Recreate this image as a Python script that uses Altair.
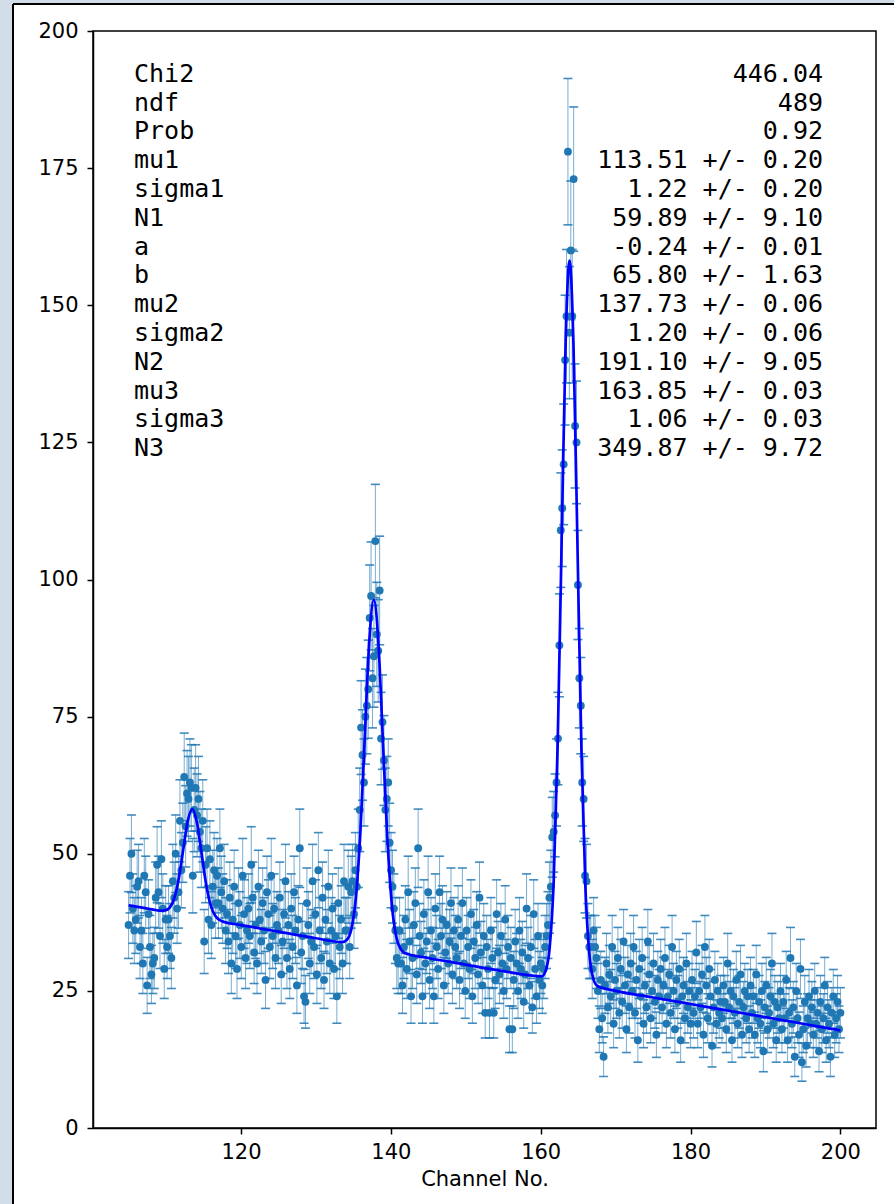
import altair as alt
import pandas as pd

# ---------------- data ----------------
CH_FIRST = 105.0
CH_LAST = 200.0

# counts per channel bin, left to right (grouped by region)
SEG_A = [37, 46, 50, 40, 36, 38, 44, 45, 33, 36, 30, 46, 43, 26, 39, 33, 28, 30, 31, 42, 48, 43, 35, 49, 40, 29, 38]
SEG_B = [33, 38, 35, 31, 45, 42, 50, 40, 43, 56, 47, 52, 64]
SEG_C = [55, 61, 60, 63, 62, 46, 58, 62, 57, 60, 54, 51, 56]
SEG_D = [34, 48, 51, 38, 49, 37, 44, 47, 41, 46]
SEG_E = [41, 51, 43, 40, 45, 36, 39, 34, 42, 30, 38, 44, 35, 29, 41, 37, 33, 46, 39, 31, 36,
         40, 35, 48, 42, 32, 37, 30, 44, 38, 34, 41, 36, 27, 43, 39, 33, 46, 35, 40, 31, 37,
         36, 42, 28, 34, 39, 45, 31, 37, 29, 40, 33, 43, 36, 26, 38, 51, 32, 35, 24, 23, 41, 37, 30, 34,
         45, 33, 39, 28, 47, 36, 31, 42, 27, 38, 34, 44, 30, 36, 40, 29, 35, 24, 41, 33, 38, 30, 45, 36]
SEG_F = [36, 44, 33, 43, 45, 39, 47, 44, 51, 58]
SEG_G = [73, 68, 63, 75, 77, 80, 93, 97, 82, 86, 107, 90, 87, 98, 71, 74, 67, 58, 60]
SEG_H = [63, 52, 47, 44, 40, 36, 31, 30]
SEG_I = [36, 30, 26, 33, 38, 29, 43, 34, 24, 31, 37, 41, 28, 51, 35, 32, 24, 39, 30, 34,
         43, 27, 36, 31, 24, 40, 33, 29, 43, 35, 38, 26, 32, 37, 30, 34, 41, 28, 36, 33,
         31, 38, 27, 35, 41, 30, 25, 36, 33, 29, 39, 24, 34, 31, 37, 28, 42, 32, 26, 35,
         21, 33, 29, 21, 36, 31, 21, 27, 39, 32, 28, 35, 30, 25, 38, 29, 33, 18, 31, 18,
         27, 34, 30, 25, 36, 29, 32, 23, 28, 40, 31, 26, 33, 22, 39, 29, 24, 35, 27, 30]
SEG_J = [26, 29, 33, 35, 37, 42, 44, 53]
SEG_K = [54, 57, 63, 71, 88, 109, 113, 121, 140, 148, 178, 145, 160, 148, 173, 128, 125, 99, 82, 77,
         63, 60, 46, 45, 35, 33]
SEG_L = [33, 29, 36, 33, 31, 25, 18, 27]
SEG_M = [20, 13, 26, 30, 22, 28, 24, 33, 19, 27, 25, 31, 21, 29, 23, 34, 26, 18, 28, 22, 30,
         25, 33, 21, 27, 16, 29, 24, 31, 19, 26, 22, 34, 28, 20, 25, 30, 23, 17, 27, 24, 29,
         22, 26, 31, 19, 24, 28, 21, 33, 25, 18, 27, 23, 29, 16, 24, 26, 20, 30, 22, 25, 19,
         27, 21, 24, 32, 19, 25, 22, 28, 17, 33, 26, 20, 29, 24, 15, 22, 27, 19, 25, 21, 23,
         20, 26, 23, 18, 30, 22, 25, 16, 24, 21, 27, 19, 23, 28, 17, 22, 25, 20, 24, 18, 26,
         21, 24, 17, 28, 20, 23, 19, 25, 14, 22, 26, 18, 21, 24, 30, 19, 23, 16, 22, 20, 25,
         18, 23, 20, 27, 16, 21, 31, 19, 22, 13, 25, 20, 17, 29, 12, 18, 23, 15, 20, 24, 19,
         22, 17, 25, 19, 21, 14, 23, 18, 20, 26, 16, 22, 19, 13, 21, 24, 17, 20, 23, 18, 21]

COUNTS = SEG_A + SEG_B + SEG_C + SEG_D + SEG_E + SEG_F + SEG_G + SEG_H + SEG_I + SEG_J + SEG_K + SEG_L + SEG_M

# fitted curve
FIT_X = [105.0, 107.0, 108.5, 109.24, 109.85, 110.46, 111.07, 111.68, 112.29, 112.90, 113.51, 114.12,
         114.73, 115.34, 115.95, 116.56, 117.17, 117.78, 120.0, 125.0, 130.0, 133.53, 134.13, 134.73,
         135.33, 135.93, 136.53, 137.13, 137.73, 138.33, 138.93, 139.53, 140.13, 140.73, 141.33, 141.93,
         145.0, 150.0, 155.0, 160.14, 160.67, 161.20, 161.73, 162.26, 162.79, 163.32, 163.85, 164.38,
         164.91, 165.44, 165.97, 166.50, 167.03, 167.56, 170.0, 175.0, 180.0, 185.0, 190.0, 195.0, 200.0]
FIT_Y = [40.6, 40.12, 39.76, 39.62, 39.66, 40.15, 41.79, 45.36, 50.74, 56.0, 58.16, 55.71,
         50.16, 44.48, 40.62, 38.69, 37.90, 37.56, 37.0, 35.8, 34.6, 33.89, 34.31, 36.25,
         41.92, 53.81, 71.56, 88.96, 96.28, 88.67, 70.99, 52.94, 40.77, 34.81, 32.58, 31.88,
         31.0, 29.8, 28.6, 27.66, 28.70, 32.89, 44.80, 69.62, 106.59, 142.81, 158.16, 142.56,
         106.08, 68.85, 43.79, 31.62, 27.17, 25.88, 25.0, 23.8, 22.6, 21.4, 20.2, 19.0, 17.8]

# fit result box
PAR_NAMES = ["Chi2", "ndf", "Prob", "mu1", "sigma1", "N1", "a", "b", "mu2", "sigma2", "N2",
             "mu3", "sigma3", "N3"]
PAR_VALUES = ["446.04", "489", "0.92", "113.51 +/- 0.20", "1.22 +/- 0.20", "59.89 +/- 9.10",
              "-0.24 +/- 0.01", "65.80 +/- 1.63", "137.73 +/- 0.06", "1.20 +/- 0.06",
              "191.10 +/- 9.05", "163.85 +/- 0.03", "1.06 +/- 0.03", "349.87 +/- 9.72"]

X_TICKS = [120, 140, 160, 180, 200]
Y_TICKS = [0, 25, 50, 75, 100, 125, 150, 175, 200]

# ---------------- chart ----------------
n = len(COUNTS)
channels = [CH_FIRST + (CH_LAST - CH_FIRST) * i / (n - 1) for i in range(n)]
df = pd.DataFrame({"ch": channels, "n": COUNTS})
fit_df = pd.DataFrame({"ch": FIT_X, "f": FIT_Y})
txt_df = pd.DataFrame({"row": list(range(len(PAR_NAMES))), "name": PAR_NAMES, "val": PAR_VALUES})

W, H = 783, 1097
BLUE = "#1f77b4"

xs = alt.Scale(domain=[100.25, 204.75], nice=False, zero=False)
ys = alt.Scale(domain=[0, 200], nice=False, zero=False)

x_axis = alt.Axis(values=X_TICKS, title="Channel No.", grid=False, labelFontSize=21,
                  titleFontSize=21, titleFontWeight="normal", tickSize=6, labelPadding=7,
                  titlePadding=6, labelFont="DejaVu Sans", titleFont="DejaVu Sans",
                  domainColor="black", tickColor="black", labelColor="black", titleColor="black",
                  domainWidth=1.5, tickWidth=1.5, labelFlush=False)
y_axis = alt.Axis(values=Y_TICKS, title=None, grid=False, labelFontSize=21, tickSize=6,
                  labelPadding=9, labelFont="DejaVu Sans", domainColor="black", tickColor="black",
                  labelColor="black", domainWidth=1.5, tickWidth=1.5, labelFlush=False)

base = alt.Chart(df).transform_calculate(
    lo="datum.n - sqrt(datum.n)", hi="datum.n + sqrt(datum.n)"
)

bars = base.mark_rule(color=BLUE, opacity=0.6, strokeWidth=1).encode(
    x=alt.X("ch:Q", scale=xs, axis=x_axis),
    y=alt.Y("lo:Q", scale=ys, axis=y_axis),
    y2="hi:Q",
)
cap_lo = base.mark_tick(color=BLUE, orient="horizontal", size=9, thickness=1.6, opacity=0.85).encode(
    x=alt.X("ch:Q", scale=xs), y=alt.Y("lo:Q", scale=ys)
)
cap_hi = base.mark_tick(color=BLUE, orient="horizontal", size=9, thickness=1.6, opacity=0.85).encode(
    x=alt.X("ch:Q", scale=xs), y=alt.Y("hi:Q", scale=ys)
)
pts = base.mark_circle(color=BLUE, size=62, opacity=1).encode(
    x=alt.X("ch:Q", scale=xs), y=alt.Y("n:Q", scale=ys)
)
fit = alt.Chart(fit_df).mark_line(color="#0000ff", strokeWidth=2.7, interpolate="monotone").encode(
    x=alt.X("ch:Q", scale=xs), y=alt.Y("f:Q", scale=ys)
)

row_scale = alt.Scale(domain=[0, len(PAR_NAMES) - 1], range=[50.7, 425.1], nice=False, zero=False)
names = alt.Chart(txt_df).mark_text(
    font="DejaVu Sans Mono", fontSize=25, align="left", baseline="alphabetic", color="black"
).encode(x=alt.value(41), y=alt.Y("row:Q", scale=row_scale, axis=None), text="name:N")
vals = alt.Chart(txt_df).mark_text(
    font="DejaVu Sans Mono", fontSize=25, align="right", baseline="alphabetic", color="black"
).encode(x=alt.value(730), y=alt.Y("row:Q", scale=row_scale, axis=None), text="val:N")

# window frame around the figure (screenshot edge)
frame_df = pd.DataFrame({"k": [0]})
strip_left = alt.Chart(frame_df).mark_rect(color="#d3dce9").encode(
    x=alt.value(-93), x2=alt.value(-81), y=alt.value(-31), y2=alt.value(H + 76)
)
strip_top = alt.Chart(frame_df).mark_rect(color="#d3dce9").encode(
    x=alt.value(-93), x2=alt.value(W + 18), y=alt.value(-31), y2=alt.value(-27)
)
edge_left = alt.Chart(frame_df).mark_rule(color="black", strokeWidth=2).encode(
    x=alt.value(-80), y=alt.value(-27), y2=alt.value(H + 76)
)
edge_top = alt.Chart(frame_df).mark_rule(color="black", strokeWidth=2).encode(
    x=alt.value(-80), x2=alt.value(W + 18), y=alt.value(-27)
)

data_layer = alt.layer(bars, cap_lo, cap_hi, pts, fit)
text_layer = alt.layer(names, vals)

chart = alt.layer(
    strip_left, strip_top, edge_left, edge_top, data_layer, text_layer
).resolve_scale(y="independent").properties(
    width=W, height=H,
    autosize=alt.AutoSizeParams(type="none"),
    padding={"left": 93, "top": 31, "right": 18, "bottom": 76},
    background="white",
).configure_view(stroke="black", strokeWidth=1.5)

chart.save("out.html", embed_options={"renderer": "svg", "actions": False})
